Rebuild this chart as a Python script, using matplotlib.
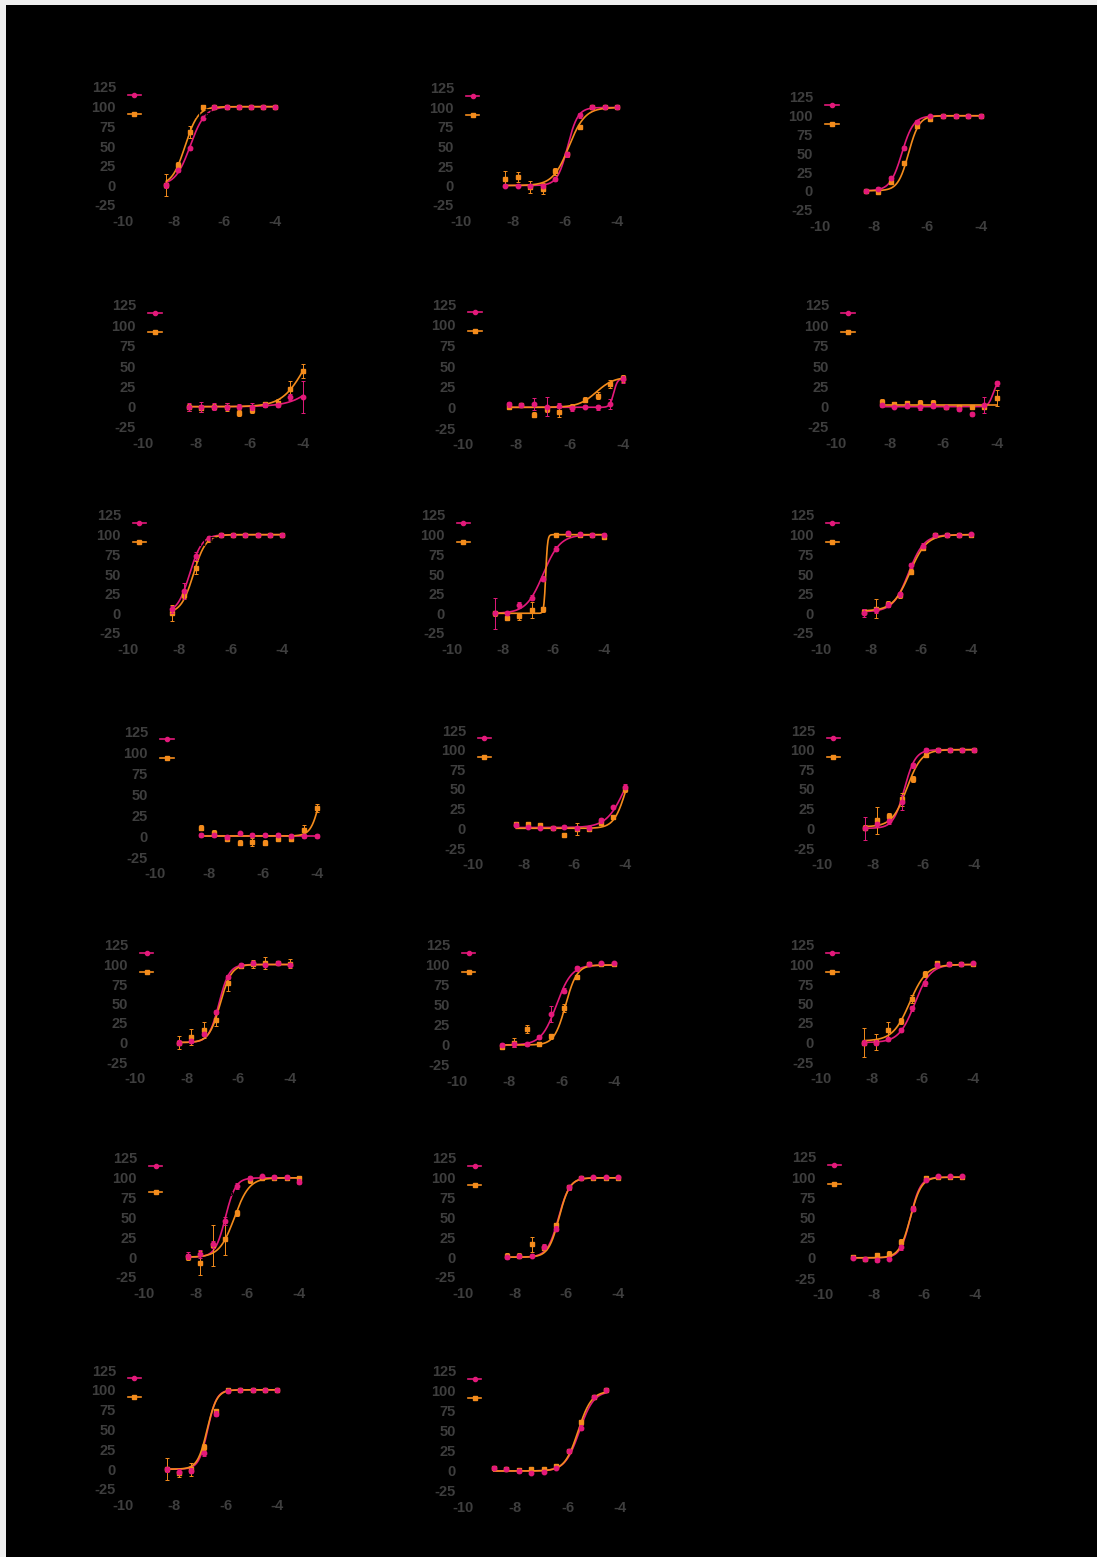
import numpy as np
import matplotlib.pyplot as plt
from matplotlib.lines import Line2D
from matplotlib.patches import Rectangle

plt.rcParams['font.family'] = ['Liberation Sans', 'DejaVu Sans']
plt.rcParams['axes.unicode_minus'] = False

# log molar concentrations (3-fold dilution series)
conc_100uM = [-8.29, -7.82, -7.34, -6.86, -6.39, -5.91, -5.43, -4.95, -4.48, -4.0]
conc_30uM = [-8.82, -8.34, -7.86, -7.39, -6.91, -6.43, -5.95, -5.48, -5.0, -4.52]
panel_conc = [conc_100uM] * 17 + [conc_30uM, conc_100uM, conc_30uM]

# % response, pink series (circles)
pink_values = [
    [0, 19, 47, 85, 100, 100, 100, 100, 100, 100],
    [0, 0, 0, 0, 8, 40, 90, 101, 100, 100],
    [0, 3, 17, 57, 92, 100, 100, 100, 100, 100],
    [0, 0, 0, 0, 0, 0, 2, 2, 12, 12],
    [4, 3, 4, 1, 2, -1, 1, 0, 4, 34],
    [2, 0, 1, -1, 1, -1, -3, -9, 2, 29],
    [5, 28, 73, 96, 100, 100, 100, 100, 100, 100],
    [0, 0, 11, 20, 44, 82, 102, 101, 100, 100],
    [0, 4, 11, 24, 61, 86, 99, 100, 100, 101],
    [1, 1, -1, 3, 1, 1, 1, 0, 0, 0],
    [4, 2, 1, 1, 2, 0, 1, 10, 27, 53],
    [0, 5, 9, 33, 80, 100, 100, 100, 100, 100],
    [0, 2, 11, 39, 84, 100, 102, 100, 102, 100],
    [0, 1, 1, 10, 39, 68, 96, 101, 102, 102],
    [0, 0, 4, 16, 44, 76, 100, 101, 101, 102],
    [2, 4, 16, 45, 90, 100, 102, 101, 101, 95],
    [0, 1, 2, 13, 36, 88, 100, 101, 101, 101],
    [0, -2, -3, -1, 13, 61, 97, 101, 101, 101],
    [0, -3, -2, 20, 70, 98, 100, 100, 100, 100],
    [4, 2, 0, -2, -1, 4, 25, 54, 93, 101],
]
pink_err = [
    [3, 2, 2, 2, 1, 1, 1, 1, 1, 1],
    [2, 2, 2, 2, 2, 3, 3, 2, 1, 1],
    [2, 2, 3, 3, 2, 1, 1, 1, 1, 1],
    [5, 6, 4, 4, 3, 4, 3, 3, 4, 20],
    [3, 2, 7, 12, 3, 3, 2, 3, 6, 4],
    [3, 2, 3, 3, 3, 2, 2, 2, 10, 3],
    [4, 10, 5, 2, 1, 1, 1, 1, 1, 1],
    [20, 2, 4, 3, 3, 3, 3, 2, 2, 2],
    [5, 3, 3, 3, 3, 3, 2, 1, 1, 1],
    [2, 2, 2, 2, 2, 2, 2, 2, 2, 2],
    [2, 2, 2, 2, 2, 2, 2, 3, 2, 3],
    [15, 3, 3, 10, 3, 2, 1, 1, 1, 1],
    [3, 3, 3, 3, 3, 2, 2, 2, 2, 2],
    [3, 3, 2, 3, 10, 3, 3, 2, 1, 1],
    [3, 3, 2, 3, 3, 3, 2, 1, 1, 1],
    [4, 5, 5, 5, 4, 2, 2, 2, 2, 3],
    [2, 2, 2, 3, 3, 3, 2, 1, 1, 1],
    [2, 2, 2, 2, 3, 3, 2, 1, 1, 1],
    [3, 3, 3, 3, 3, 2, 1, 1, 1, 1],
    [2, 2, 2, 2, 2, 2, 3, 3, 2, 1],
]

# % response, orange series (squares)
orange_values = [
    [0, 26, 68, 99, 100, 100, 100, 100, 100, 100],
    [8, 11, -2, -4, 18, 40, 75, 100, 100, 100],
    [0, -1, 12, 37, 87, 96, 100, 100, 100, 100],
    [-1, -2, 0, 0, -8, -4, 3, 5, 22, 44],
    [1, 3, -9, -2, -6, 1, 9, 14, 28, 35],
    [6, 3, 4, 5, 5, 0, 0, 0, 0, 11],
    [0, 23, 58, 94, 100, 100, 100, 100, 100, 99],
    [0, -6, -4, 4, 5, 100, 101, 100, 100, 97],
    [2, 6, 12, 23, 53, 83, 99, 100, 100, 100],
    [10, 4, -3, -8, -7, -8, -3, -3, 7, 33],
    [6, 5, 4, 1, -8, -1, -1, 7, 14, 50],
    [1, 10, 16, 37, 63, 93, 99, 100, 100, 100],
    [0, 7, 16, 29, 76, 98, 101, 102, 102, 101],
    [-3, 3, 20, 1, 11, 46, 85, 101, 101, 101],
    [0, 1, 16, 28, 56, 88, 102, 101, 101, 101],
    [0, -7, 15, 23, 56, 97, 100, 100, 100, 100],
    [2, 2, 16, 12, 40, 88, 100, 100, 100, 100],
    [1, -1, 3, 5, 20, 61, 99, 100, 100, 100],
    [0, -5, 0, 28, 73, 100, 100, 100, 100, 100],
    [4, 2, 1, 2, 2, 6, 25, 61, 93, 101],
]
orange_err = [
    [14, 4, 8, 3, 1, 1, 1, 1, 1, 1],
    [10, 6, 8, 7, 5, 3, 3, 2, 1, 1],
    [2, 2, 3, 3, 3, 2, 1, 1, 1, 1],
    [4, 4, 3, 5, 4, 4, 3, 4, 9, 9],
    [3, 2, 3, 4, 6, 3, 3, 4, 5, 4],
    [4, 3, 3, 3, 3, 2, 2, 2, 2, 10],
    [10, 3, 8, 3, 1, 1, 1, 1, 1, 1],
    [3, 2, 4, 10, 3, 2, 2, 2, 2, 2],
    [3, 12, 4, 3, 3, 3, 2, 1, 1, 1],
    [3, 3, 2, 3, 5, 3, 2, 2, 6, 5],
    [2, 2, 2, 2, 2, 8, 2, 2, 2, 4],
    [3, 17, 4, 8, 4, 2, 1, 1, 1, 1],
    [8, 10, 10, 8, 10, 3, 5, 8, 3, 6],
    [2, 6, 5, 2, 3, 5, 3, 2, 1, 1],
    [18, 10, 10, 4, 5, 4, 3, 1, 1, 1],
    [4, 15, 26, 20, 4, 3, 2, 2, 2, 2],
    [3, 3, 10, 3, 3, 3, 2, 1, 1, 1],
    [2, 2, 3, 3, 3, 3, 2, 1, 1, 1],
    [14, 5, 8, 4, 3, 2, 1, 1, 1, 1],
    [2, 2, 2, 2, 2, 3, 3, 3, 2, 1],
]

# four-parameter logistic fits: (bottom, top, logEC50, hill)
pink_fit = [
    (0, 100, -7.35, 1.5), (0, 100, -5.9, 2.2), (0, 100, -6.95, 2.0),
    (0, 100, -3.0, 0.8), (0, 35, -4.35, 6.0), (0, 32, -4.15, 5.0),
    (0, 100, -7.6, 1.8), (0, 100, -6.4, 1.3), (2, 100, -6.5, 1.4),
    (0, 0, -5.0, 1.0), (1, 100, -4.0, 1.2), (0, 100, -6.75, 2.0),
    (0, 100, -6.75, 2.2), (0, 100, -6.2, 1.5), (0, 100, -6.3, 1.4),
    (0, 100, -6.85, 2.2), (0, 100, -6.3, 2.0), (0, 100, -6.55, 2.2),
    (0, 100, -6.7, 2.5), (0, 100, -5.55, 1.6),
]
orange_fit = [
    (0, 100, -7.55, 1.7), (0, 100, -5.85, 1.4), (0, 100, -6.7, 2.2),
    (0, 100, -3.9, 1.0), (0, 37, -5.0, 1.3), (2, 2, -5.0, 1.0),
    (0, 100, -7.45, 1.8), (0, 100, -6.3, 12.0), (3, 100, -6.45, 1.3),
    (0, 100, -3.85, 2.5), (0, 100, -3.95, 1.8), (2, 100, -6.65, 1.5),
    (0, 100, -6.7, 2.0), (0, 100, -5.85, 2.0), (2, 100, -6.5, 1.3),
    (0, 100, -6.5, 1.5), (0, 100, -6.28, 2.1), (0, 100, -6.55, 2.0),
    (0, 100, -6.72, 2.3), (0, 100, -5.6, 1.7),
]

series_labels = ['Condition A', 'Condition B']
x_ticks = [-10, -8, -6, -4]
y_ticks = [-25, 0, 25, 50, 75, 100, 125]

# panel boxes in pixels: x of -10, x of -4, y of 125, y of -25
boxes = [
    (123, 275, 87, 205), (461, 617, 88, 205), (820, 981, 97, 209.5),
    (143, 303, 305, 427), (463, 623, 304, 428), (836, 997, 305, 427),
    (128, 282, 515, 633), (452, 604, 515, 633), (821, 971, 515, 633),
    (155, 317, 731, 857), (473, 625, 730, 848), (822, 974, 730, 848),
    (135, 290, 945, 1062), (457, 614, 945, 1065), (821, 973, 945, 1062),
    (144, 299, 1158, 1277), (463, 618, 1158, 1277), (823, 975, 1157, 1278),
    (123, 277, 1370, 1489), (463, 620, 1371, 1491),
]
legend_spacing = [0.52] * 20
legend_spacing[15] = 1.1

W, H = 1097, 1557
pink = '#e3197a'
orange = '#f48c1c'
tick_gray = '#3e3e3e'


def four_pl(x, bottom, top, logec50, hill):
    return bottom + (top - bottom) / (1 + 10 ** ((logec50 - x) * hill))


fig = plt.figure(figsize=(W / 100, H / 100), dpi=100, facecolor='#efefef')
fig.patches.append(Rectangle((6 / W, 0), 1 - 6 / W, 1 - 5 / H, transform=fig.transFigure,
                             facecolor='black', edgecolor='none', zorder=-1))

for i in range(20):
    xl, xr, yt, yb = boxes[i]
    ax = fig.add_axes([xl / W, 1 - yb / H, (xr - xl) / W, (yb - yt) / H])
    ax.set_facecolor('black')
    x = np.array(panel_conc[i])
    xs = np.linspace(x.min(), x.max(), 300)

    ax.plot(xs, four_pl(xs, *pink_fit[i]), color=pink, lw=1.2, zorder=2, clip_on=False)
    ax.plot(xs, four_pl(xs, *orange_fit[i]), color=orange, lw=1.2, zorder=2, clip_on=False)
    ax.errorbar(x, orange_values[i], yerr=orange_err[i], fmt='s', ms=3.2, color=orange,
                elinewidth=0.7, capsize=1.3, capthick=0.7, zorder=3, clip_on=False)
    ax.errorbar(x, pink_values[i], yerr=pink_err[i], fmt='o', ms=3.2, color=pink,
                elinewidth=0.7, capsize=1.3, capthick=0.7, zorder=4, clip_on=False)

    handles = [Line2D([], [], color=pink, marker='o', ms=3, lw=1.2),
               Line2D([], [], color=orange, marker='s', ms=3, lw=1.2)]
    ax.legend(handles, series_labels, loc='upper left', bbox_to_anchor=(0.03, 0.97),
              frameon=False, fontsize=9, labelcolor='black', handlelength=1.1,
              handletextpad=0.5, borderpad=0, borderaxespad=0,
              labelspacing=legend_spacing[i])

    ax.set_xlim(-10, -4)
    ax.set_ylim(-25, 125)
    ax.set_xticks(x_ticks)
    ax.set_yticks(y_ticks)
    for s in ax.spines.values():
        s.set_color('black')
    ax.spines['top'].set_visible(False)
    ax.spines['right'].set_visible(False)
    ax.tick_params(axis='x', colors='black', labelcolor=tick_gray, length=3, pad=4.5)
    ax.tick_params(axis='y', colors='black', labelcolor=tick_gray, length=3, pad=2)
    for lab in ax.get_xticklabels() + ax.get_yticklabels():
        lab.set_fontsize(10.5)
        lab.set_fontweight('bold')

fig.savefig('out.png', dpi=100, facecolor=fig.get_facecolor())
